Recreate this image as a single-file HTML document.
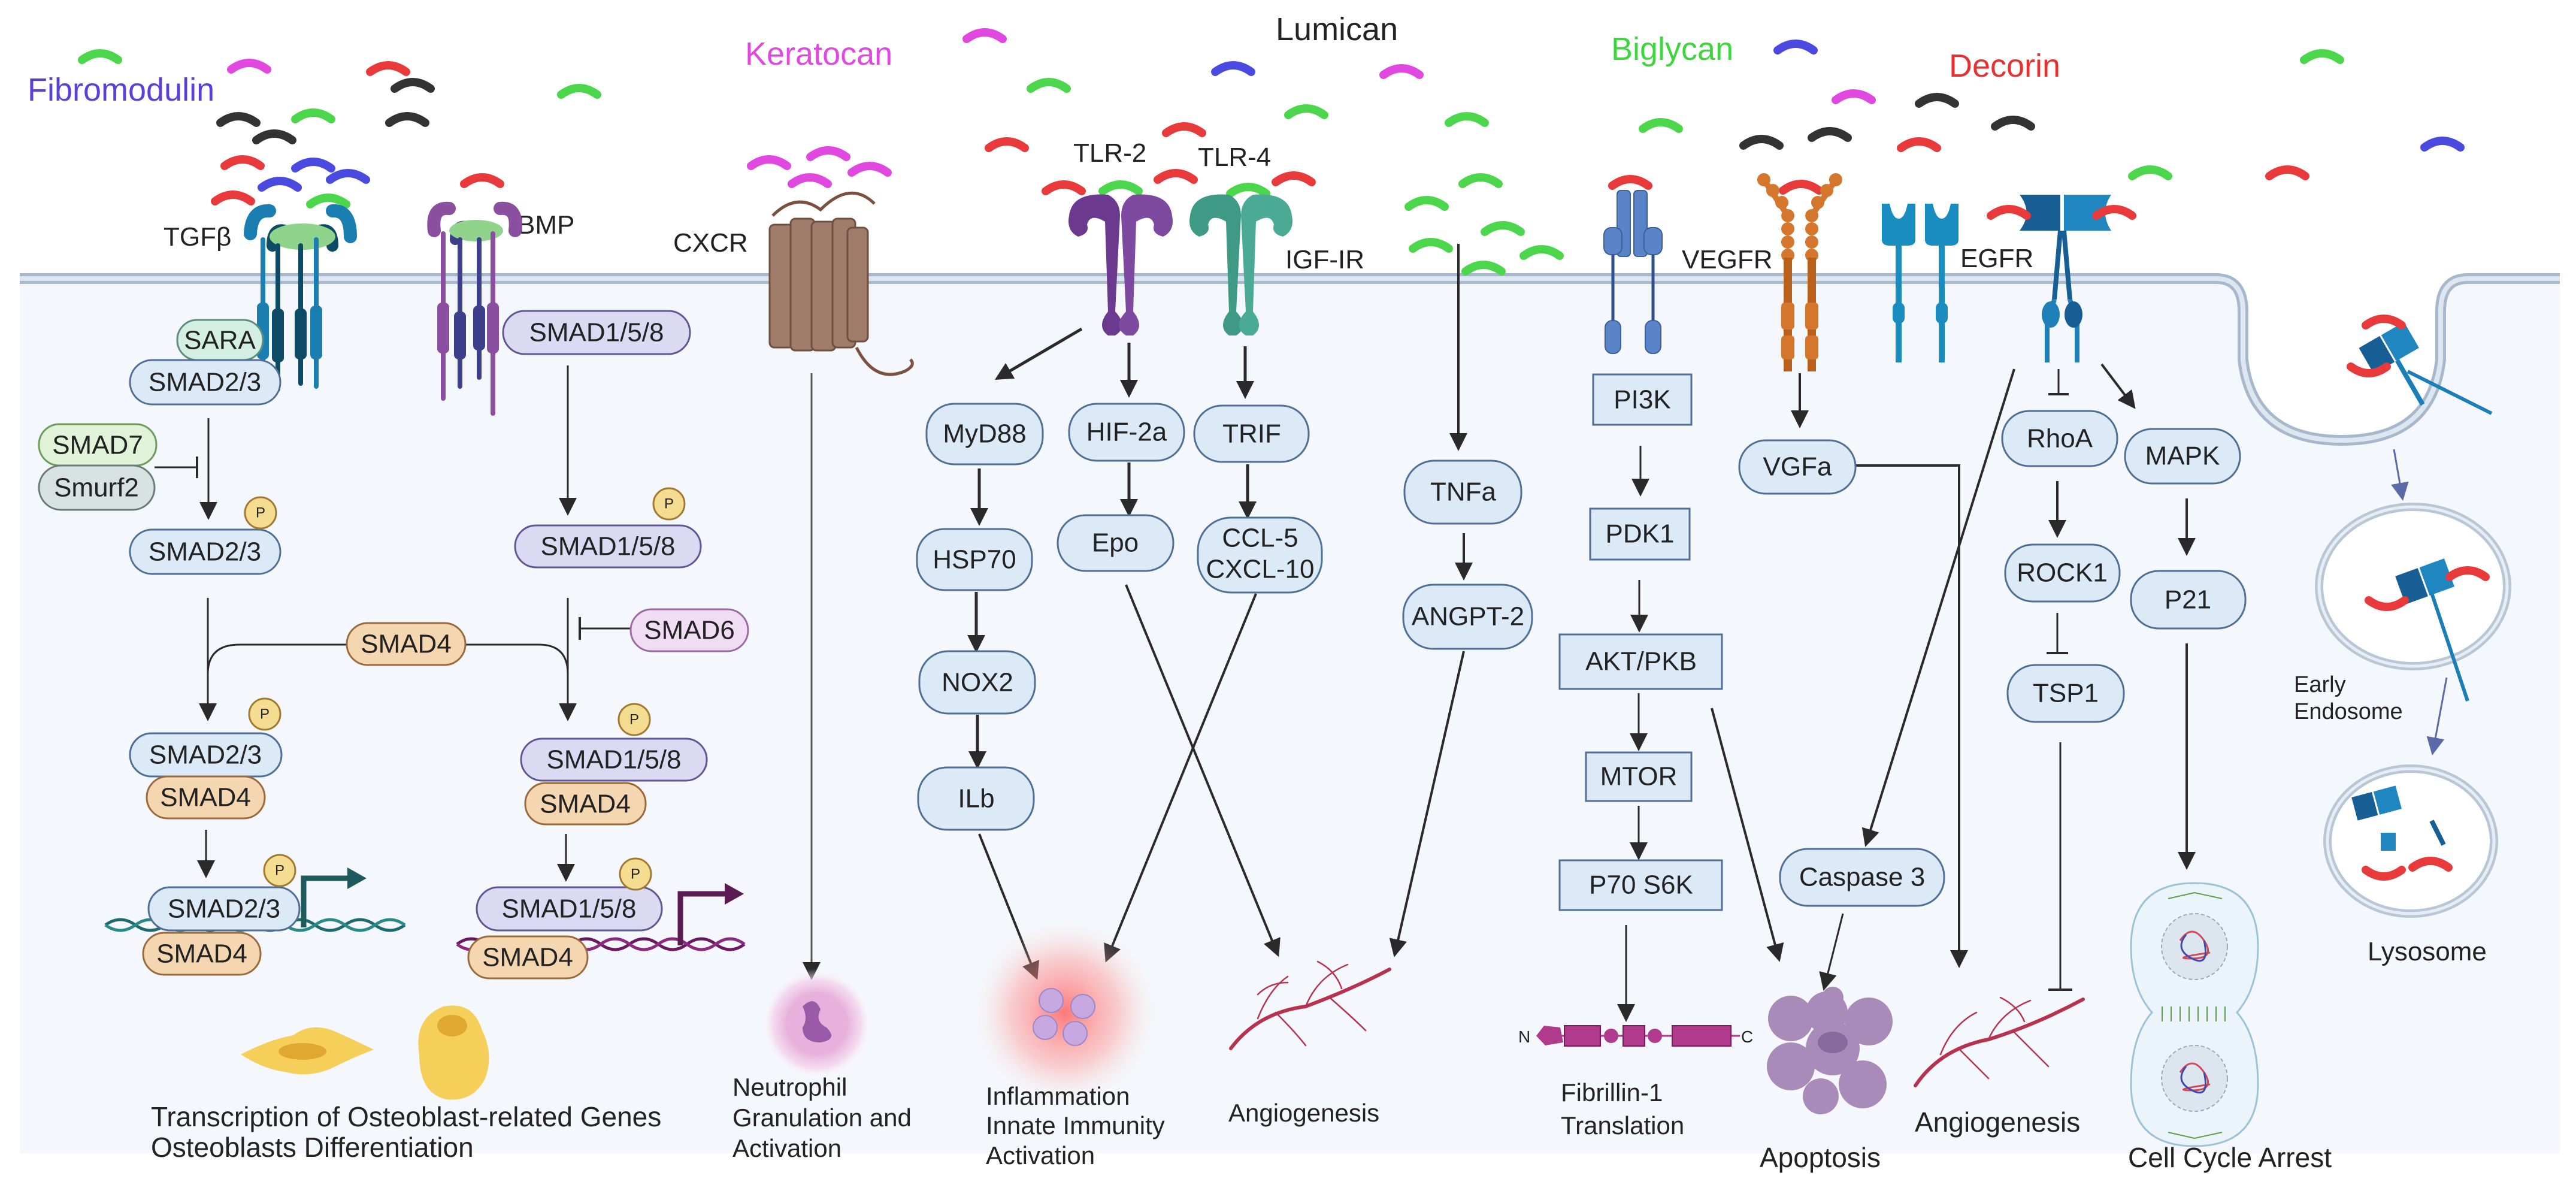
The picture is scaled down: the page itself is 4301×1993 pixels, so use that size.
<!DOCTYPE html>
<html><head><meta charset="utf-8"><style>
html,body{margin:0;padding:0;background:#fff}
svg{display:block}
text{font-family:"Liberation Sans",sans-serif;fill:#222}
.pt{font-size:44px;text-anchor:middle;dominant-baseline:central}
.lb{font-size:44px}
</style></head><body>
<svg width="4301" height="1993" viewBox="0 0 4301 1993" xmlns="http://www.w3.org/2000/svg">
<defs>
<marker id="ahb" viewBox="0 0 10 10" refX="8" refY="5" markerWidth="30" markerHeight="30" orient="auto" markerUnits="userSpaceOnUse"><path d="M0 0 L10 5 L0 10 z" fill="#2a2a2a"/></marker>
<marker id="ahp" viewBox="0 0 10 10" refX="8" refY="5" markerWidth="30" markerHeight="30" orient="auto" markerUnits="userSpaceOnUse"><path d="M0 0 L10 5 L0 10 z" fill="#5a6aa8"/></marker>
<path id="lg" d="M-30 8 Q0 -14 30 8" fill="none" stroke-width="14" stroke-linecap="round"/>
<radialGradient id="glow"><stop offset="0" stop-color="#ff5a5a" stop-opacity=".8"/><stop offset=".6" stop-color="#ff8a8a" stop-opacity=".4"/><stop offset="1" stop-color="#ffd0d0" stop-opacity="0"/></radialGradient>
<radialGradient id="nglow"><stop offset=".55" stop-color="#e8b0dc"/><stop offset=".8" stop-color="#f3cdea" stop-opacity=".7"/><stop offset="1" stop-color="#fff" stop-opacity="0"/></radialGradient>
</defs>

<rect x="33" y="465" width="4241" height="1460" fill="#f4f7fb"/>
<path d="M3700 459 Q3745 459 3745 520 L3745 600 Q3760 735 3910 735 Q4060 735 4075 600 L4075 520 Q4075 459 4120 459 Z" fill="#fff"/>
<path d="M33 465 L3700 465 Q3745 465 3745 520 L3745 600 Q3760 735 3910 735 Q4060 735 4075 600 L4075 520 Q4075 465 4120 465 L4274 465" fill="none" stroke="#a8b8cc" stroke-width="18"/>
<path d="M33 465 L3700 465 Q3745 465 3745 520 L3745 600 Q3760 735 3910 735 Q4060 735 4075 600 L4075 520 Q4075 465 4120 465 L4274 465" fill="none" stroke="#dde7f1" stroke-width="8"/>

<g>
<use href="#lg" x="167" y="92" stroke="#4cd64c"/><use href="#lg" x="416" y="108" stroke="#e048e0"/><use href="#lg" x="648" y="112" stroke="#e83a3a"/><use href="#lg" x="689" y="140" stroke="#333"/><use href="#lg" x="967" y="150" stroke="#4cd64c"/>
<use href="#lg" x="398" y="197" stroke="#333"/><use href="#lg" x="458" y="226" stroke="#333"/><use href="#lg" x="523" y="191" stroke="#4cd64c"/><use href="#lg" x="680" y="197" stroke="#333"/>
<use href="#lg" x="405" y="269" stroke="#e83a3a"/><use href="#lg" x="523" y="273" stroke="#4a4ae0"/><use href="#lg" x="467" y="305" stroke="#4a4ae0"/><use href="#lg" x="581" y="292" stroke="#4a4ae0"/><use href="#lg" x="389" y="328" stroke="#e83a3a"/><use href="#lg" x="548" y="333" stroke="#4cd64c"/><use href="#lg" x="805" y="299" stroke="#e83a3a"/>
<use href="#lg" x="1284" y="269" stroke="#e048e0"/><use href="#lg" x="1383" y="254" stroke="#e048e0"/><use href="#lg" x="1352" y="299" stroke="#e048e0"/><use href="#lg" x="1452" y="280" stroke="#e048e0"/>
<use href="#lg" x="1644" y="57" stroke="#e048e0"/><use href="#lg" x="1751" y="140" stroke="#4cd64c"/><use href="#lg" x="1681" y="239" stroke="#e83a3a"/><use href="#lg" x="1977" y="214" stroke="#e83a3a"/><use href="#lg" x="2059" y="112" stroke="#4a4ae0"/><use href="#lg" x="2340" y="117" stroke="#e048e0"/><use href="#lg" x="2181" y="184" stroke="#4cd64c"/><use href="#lg" x="2449" y="197" stroke="#4cd64c"/>
<use href="#lg" x="1776" y="311" stroke="#e83a3a"/><use href="#lg" x="1871" y="311" stroke="#4cd64c"/><use href="#lg" x="1963" y="292" stroke="#e83a3a"/><use href="#lg" x="2084" y="315" stroke="#4cd64c"/><use href="#lg" x="2160" y="296" stroke="#e83a3a"/>
<use href="#lg" x="2382" y="337" stroke="#4cd64c"/><use href="#lg" x="2472" y="299" stroke="#4cd64c"/><use href="#lg" x="2509" y="379" stroke="#4cd64c"/><use href="#lg" x="2389" y="407" stroke="#4cd64c"/><use href="#lg" x="2574" y="419" stroke="#4cd64c"/><use href="#lg" x="2477" y="445" stroke="#4cd64c"/>
<use href="#lg" x="2773" y="207" stroke="#4cd64c"/><use href="#lg" x="2722" y="302" stroke="#e83a3a"/>
<use href="#lg" x="2998" y="76" stroke="#4a4ae0"/><use href="#lg" x="3095" y="159" stroke="#e048e0"/><use href="#lg" x="2941" y="235" stroke="#333"/><use href="#lg" x="3055" y="222" stroke="#333"/><use href="#lg" x="3234" y="165" stroke="#333"/><use href="#lg" x="3361" y="203" stroke="#333"/><use href="#lg" x="3204" y="239" stroke="#e83a3a"/>
<use href="#lg" x="3590" y="286" stroke="#4cd64c"/><use href="#lg" x="3819" y="286" stroke="#e83a3a"/><use href="#lg" x="3877" y="92" stroke="#4cd64c"/><use href="#lg" x="4078" y="238" stroke="#4a4ae0"/><use href="#lg" x="3007" y="310" stroke="#e83a3a"/>
</g>

<text x="46" y="168" font-size="54" style="fill:#5a40d8">Fibromodulin</text>
<text x="1244" y="108" font-size="54" style="fill:#e048e0">Keratocan</text>
<text x="2130" y="67" font-size="54">Lumican</text>
<text x="2690" y="100" font-size="54" style="fill:#3ed63e">Biglycan</text>
<text x="3254" y="128" font-size="54" style="fill:#e83030">Decorin</text>
<text class="lb" x="273" y="410" font-size="50">TGFβ</text>
<text class="lb" x="864" y="390">BMP</text>
<text class="lb" x="1124" y="420">CXCR</text>
<text class="lb" x="1792" y="270">TLR-2</text>
<text class="lb" x="2000" y="277">TLR-4</text>
<text class="lb" x="2146" y="448">IGF-IR</text>
<text class="lb" x="2808" y="448">VEGFR</text>
<text class="lb" x="3273" y="446">EGFR</text>

<g stroke-linecap="round">
<path d="M418 390 Q420 350 450 352 M555 352 Q585 350 585 395" stroke="#1a7fb0" stroke-width="22" fill="none"/>
<path d="M455 410 Q455 380 475 385 M535 385 Q555 380 555 410" stroke="#0d4a66" stroke-width="20" fill="none"/>
<ellipse cx="505" cy="395" rx="55" ry="22" fill="#8fd48a"/>
<line x1="439" y1="400" x2="439" y2="640" stroke="#1a7fb0" stroke-width="8"/>
<line x1="464" y1="410" x2="464" y2="650" stroke="#0d4a66" stroke-width="8"/>
<line x1="502" y1="410" x2="502" y2="640" stroke="#0d4a66" stroke-width="8"/>
<line x1="528" y1="400" x2="528" y2="645" stroke="#1a7fb0" stroke-width="8"/>
<rect x="429" y="505" width="20" height="95" rx="8" fill="#1a7fb0"/><rect x="454" y="515" width="20" height="90" rx="8" fill="#0d4a66"/><rect x="492" y="515" width="20" height="85" rx="8" fill="#0d4a66"/><rect x="518" y="510" width="20" height="90" rx="8" fill="#1a7fb0"/>
</g>
<g stroke-linecap="round">
<path d="M725 385 Q720 345 750 348 M835 348 Q865 345 860 385" stroke="#8a4f9e" stroke-width="22" fill="none"/>
<path d="M760 400 Q760 375 778 378" stroke="#3d3f8a" stroke-width="18" fill="none"/>
<ellipse cx="795" cy="385" rx="45" ry="18" fill="#8fd48a"/>
<line x1="740" y1="390" x2="740" y2="665" stroke="#8a4f9e" stroke-width="8"/>
<line x1="768" y1="400" x2="768" y2="645" stroke="#3d3f8a" stroke-width="8"/>
<line x1="800" y1="400" x2="800" y2="630" stroke="#3d3f8a" stroke-width="8"/>
<line x1="823" y1="390" x2="823" y2="690" stroke="#8a4f9e" stroke-width="8"/>
<rect x="730" y="505" width="20" height="85" rx="8" fill="#8a4f9e"/><rect x="758" y="520" width="20" height="80" rx="8" fill="#3d3f8a"/><rect x="790" y="510" width="20" height="75" rx="8" fill="#3d3f8a"/><rect x="813" y="505" width="20" height="85" rx="8" fill="#8a4f9e"/>
</g>
<g fill="#a07c6a" stroke="#6e5040" stroke-width="3">
<path d="M1290 360 Q1330 320 1370 350 Q1420 300 1460 340" fill="none" stroke="#7a5040" stroke-width="5"/>
<rect x="1285" y="375" width="40" height="205" rx="8"/><rect x="1320" y="365" width="40" height="220" rx="8"/><rect x="1355" y="370" width="40" height="215" rx="8"/><rect x="1390" y="365" width="38" height="215" rx="8"/><rect x="1415" y="380" width="34" height="190" rx="8"/>
<path d="M1430 580 Q1460 640 1510 620 Q1530 610 1520 600" fill="none" stroke="#7a5040" stroke-width="5"/>
</g>
<g fill="#6b3a8f">
<path d="M1785 360 Q1790 320 1850 325 Q1870 335 1870 360 L1862 520 Q1885 545 1862 560 L1850 560 Q1830 545 1850 520 L1845 370 Q1820 355 1815 375 Q1820 390 1800 395 Q1780 385 1785 360Z"/>
<path d="M1957 360 Q1952 320 1892 325 Q1872 335 1872 360 L1880 520 Q1857 545 1880 560 L1892 560 Q1912 545 1892 520 L1897 370 Q1922 355 1927 375 Q1922 390 1942 395 Q1962 385 1957 360Z" fill="#7d4aa0"/>
</g>
<g fill="#3e9a85">
<path d="M1987 360 Q1992 320 2052 325 Q2072 335 2072 360 L2064 520 Q2087 545 2064 560 L2052 560 Q2032 545 2052 520 L2047 370 Q2022 355 2017 375 Q2022 390 2002 395 Q1982 385 1987 360Z"/>
<path d="M2157 360 Q2152 320 2092 325 Q2072 335 2072 360 L2080 520 Q2057 545 2080 560 L2092 560 Q2112 545 2092 520 L2097 370 Q2122 355 2127 375 Q2122 390 2142 395 Q2162 385 2157 360Z" fill="#4aaa94"/>
</g>
<g fill="#5a84c8" stroke="#3e5f9a" stroke-width="2">
<rect x="2700" y="318" width="22" height="110" rx="6"/><rect x="2728" y="318" width="22" height="110" rx="6"/>
<rect x="2678" y="380" width="30" height="45" rx="12"/><rect x="2745" y="380" width="30" height="45" rx="12"/>
<line x1="2693" y1="425" x2="2693" y2="540" stroke="#2e4f8a" stroke-width="5"/><line x1="2760" y1="425" x2="2760" y2="540" stroke="#2e4f8a" stroke-width="5"/>
<rect x="2680" y="535" width="26" height="55" rx="12"/><rect x="2747" y="535" width="26" height="55" rx="12"/>
</g>
<g fill="#d4772c">
<line x1="2945" y1="300" x2="2985" y2="360" stroke="#d4772c" stroke-width="10"/><line x1="3065" y1="300" x2="3025" y2="360" stroke="#d4772c" stroke-width="10"/>
<circle cx="2945" cy="300" r="11"/><circle cx="2960" cy="318" r="11"/><circle cx="2975" cy="338" r="11"/><circle cx="2985" cy="360" r="11"/><circle cx="2985" cy="382" r="11"/><circle cx="2985" cy="404" r="11"/><circle cx="2985" cy="426" r="11"/>
<circle cx="3065" cy="300" r="11"/><circle cx="3050" cy="318" r="11"/><circle cx="3035" cy="338" r="11"/><circle cx="3025" cy="360" r="11"/><circle cx="3025" cy="382" r="11"/><circle cx="3025" cy="404" r="11"/><circle cx="3025" cy="426" r="11"/>
<rect x="2978" y="430" width="14" height="190" fill="#b8601c"/><rect x="3018" y="430" width="14" height="190" fill="#b8601c"/>
<rect x="2974" y="505" width="22" height="45" rx="6"/><rect x="3014" y="505" width="22" height="45" rx="6"/><rect x="2974" y="560" width="22" height="40" rx="6"/><rect x="3014" y="560" width="22" height="40" rx="6"/>
</g>
<g fill="#1a8dc0">
<path d="M3142 340 L3142 400 Q3142 410 3155 410 L3185 410 Q3198 410 3198 400 L3198 340 L3185 340 Q3180 365 3170 365 Q3160 365 3155 340Z"/>
<path d="M3214 340 L3214 400 Q3214 410 3227 410 L3257 410 Q3270 410 3270 400 L3270 340 L3257 340 Q3252 365 3242 365 Q3232 365 3227 340Z"/>
<rect x="3165" y="405" width="10" height="200"/><rect x="3237" y="405" width="10" height="200"/>
<rect x="3160" y="505" width="20" height="35" rx="9"/><rect x="3232" y="505" width="20" height="35" rx="9"/>
</g>
<g>
<path d="M3372 325 L3440 325 L3440 385 L3372 385 Q3395 355 3372 325Z" fill="#175e94"/>
<path d="M3446 325 L3525 325 Q3505 355 3525 385 L3446 385Z" fill="#1f86c0"/>
<path d="M3440 385 L3430 500 M3446 385 L3456 500" stroke="#175e94" stroke-width="8"/>
<path d="M3430 500 L3418 540 L3418 605 M3456 500 L3468 540 L3468 605" stroke="#1f7fb8" stroke-width="8" fill="none"/>
<ellipse cx="3424" cy="525" rx="15" ry="22" fill="#1f7fb8"/><ellipse cx="3462" cy="525" rx="15" ry="22" fill="#175e94"/>
<use href="#lg" x="3354" y="352" stroke="#e83a3a"/><use href="#lg" x="3530" y="352" stroke="#e83a3a"/>
</g>

<g stroke="#2a2a2a" fill="none">
<line x1="348" y1="698" x2="348" y2="862" stroke-width="3" marker-end="url(#ahb)"/>
<line x1="258" y1="780" x2="329" y2="780" stroke-width="3"/><line x1="329" y1="762" x2="329" y2="798" stroke-width="4"/>
<line x1="347" y1="998" x2="347" y2="1198" stroke-width="3" marker-end="url(#ahb)"/>
<path d="M579 1076 L400 1076 Q347 1076 347 1125" stroke-width="3"/>
<path d="M777 1076 L900 1076 Q948 1076 948 1125" stroke-width="3"/>
<line x1="948" y1="610" x2="948" y2="855" stroke-width="3" marker-end="url(#ahb)"/>
<line x1="948" y1="998" x2="948" y2="1198" stroke-width="3" marker-end="url(#ahb)"/>
<line x1="1053" y1="1049" x2="970" y2="1049" stroke-width="3"/><line x1="968" y1="1030" x2="968" y2="1068" stroke-width="4"/>
<line x1="344" y1="1385" x2="344" y2="1460" stroke-width="3" marker-end="url(#ahb)"/>
<line x1="945" y1="1392" x2="945" y2="1466" stroke-width="3" marker-end="url(#ahb)"/>
<line x1="1355" y1="623" x2="1355" y2="1630" stroke="#555" stroke-width="3" marker-end="url(#ahb)"/>
<line x1="1806" y1="549" x2="1666" y2="631" stroke-width="5" marker-end="url(#ahb)"/>
<line x1="1885" y1="572" x2="1885" y2="658" stroke-width="5" marker-end="url(#ahb)"/>
<line x1="2079" y1="578" x2="2079" y2="660" stroke-width="5" marker-end="url(#ahb)"/>
<line x1="1635" y1="782" x2="1635" y2="872" stroke-width="5" marker-end="url(#ahb)"/>
<line x1="1630" y1="988" x2="1630" y2="1084" stroke-width="5" marker-end="url(#ahb)"/>
<line x1="1632" y1="1193" x2="1632" y2="1278" stroke-width="5" marker-end="url(#ahb)"/>
<line x1="1885" y1="772" x2="1885" y2="857" stroke-width="5" marker-end="url(#ahb)"/>
<line x1="2083" y1="775" x2="2083" y2="861" stroke-width="5" marker-end="url(#ahb)"/>
<line x1="1635" y1="1392" x2="1730" y2="1630" stroke-width="4" marker-end="url(#ahb)"/>
<line x1="1880" y1="976" x2="2133" y2="1592" stroke-width="4" marker-end="url(#ahb)"/>
<line x1="2097" y1="991" x2="1848" y2="1601" stroke-width="4" marker-end="url(#ahb)"/>
<line x1="2444" y1="1087" x2="2329" y2="1592" stroke-width="4" marker-end="url(#ahb)"/>
<line x1="2435" y1="407" x2="2435" y2="747" stroke-width="4" marker-end="url(#ahb)"/>
<line x1="2444" y1="890" x2="2444" y2="963" stroke-width="4" marker-end="url(#ahb)"/>
<line x1="2739" y1="744" x2="2739" y2="823" stroke-width="3" marker-end="url(#ahb)"/>
<line x1="2737" y1="968" x2="2737" y2="1050" stroke-width="3" marker-end="url(#ahb)"/>
<line x1="2736" y1="1157" x2="2736" y2="1248" stroke-width="3" marker-end="url(#ahb)"/>
<line x1="2736" y1="1345" x2="2736" y2="1430" stroke-width="3" marker-end="url(#ahb)"/>
<line x1="2715" y1="1544" x2="2715" y2="1700" stroke-width="3" marker-end="url(#ahb)"/>
<line x1="2858" y1="1182" x2="2970" y2="1600" stroke-width="4" marker-end="url(#ahb)"/>
<line x1="3005" y1="623" x2="3005" y2="709" stroke-width="4" marker-end="url(#ahb)"/>
<path d="M3098 777 L3271 777 L3271 1610" stroke-width="4" marker-end="url(#ahb)"/>
<line x1="3363" y1="616" x2="3116" y2="1408" stroke-width="4" marker-end="url(#ahb)"/>
<line x1="3077" y1="1525" x2="3046" y2="1648" stroke-width="3" marker-end="url(#ahb)"/>
<line x1="3437" y1="616" x2="3437" y2="658" stroke-width="3"/><line x1="3420" y1="658" x2="3454" y2="658" stroke-width="4"/>
<line x1="3435" y1="803" x2="3435" y2="892" stroke-width="4" marker-end="url(#ahb)"/>
<line x1="3435" y1="1023" x2="3435" y2="1090" stroke-width="3"/><line x1="3417" y1="1090" x2="3453" y2="1090" stroke-width="4"/>
<line x1="3440" y1="1239" x2="3440" y2="1652" stroke-width="3"/><line x1="3420" y1="1652" x2="3460" y2="1652" stroke-width="4"/>
<line x1="3509" y1="608" x2="3562" y2="678" stroke-width="4" marker-end="url(#ahb)"/>
<line x1="3651" y1="832" x2="3651" y2="922" stroke-width="4" marker-end="url(#ahb)"/>
<line x1="3651" y1="1074" x2="3651" y2="1446" stroke-width="4" marker-end="url(#ahb)"/>
<line x1="3997" y1="750" x2="4011" y2="830" stroke="#5a6aa8" stroke-width="3" marker-end="url(#ahp)"/>
<line x1="4085" y1="1131" x2="4062" y2="1255" stroke="#5a6aa8" stroke-width="3" marker-end="url(#ahp)"/>
</g>

<g fill="none" stroke-width="5">
<path d="M176 1544 q25 -18 50 0 t50 0 t50 0 t50 0 t50 0 t50 0 t50 0 t50 0 t50 0 t50 0" stroke="#1e6a6c"/>
<path d="M176 1544 q25 18 50 0 t50 0 t50 0 t50 0 t50 0 t50 0 t50 0 t50 0 t50 0 t50 0" stroke="#2a8a8a"/>
<path d="M763 1576 q24 -18 48 0 t48 0 t48 0 t48 0 t48 0 t48 0 t48 0 t48 0 t48 0 t48 0" stroke="#6a1a62"/>
<path d="M763 1576 q24 18 48 0 t48 0 t48 0 t48 0 t48 0 t48 0 t48 0 t48 0 t48 0 t48 0" stroke="#8a2a80"/>
<path d="M507 1548 L507 1466 L585 1466" stroke="#1e5a5c" stroke-width="9"/><path d="M580 1448 L612 1466 L580 1484Z" fill="#1e5a5c" stroke="none"/>
<path d="M1136 1578 L1136 1492 L1215 1492" stroke="#5a1a52" stroke-width="9"/><path d="M1210 1474 L1242 1492 L1210 1510Z" fill="#5a1a52" stroke="none"/>
</g>

<g stroke-width="3">
<rect x="296" y="534" width="143" height="67" rx="33" fill="#d3efe4" stroke="#5f8e80"/>
<rect x="217" y="601" width="251" height="74" rx="37" fill="#dce9f7" stroke="#4f6f94"/>
<rect x="65" y="708" width="196" height="69" rx="34" fill="#e0f3d8" stroke="#6c9d5c"/>
<rect x="65" y="777" width="193" height="74" rx="37" fill="#d8e2e0" stroke="#6b7c78"/>
<rect x="217" y="884" width="251" height="74" rx="37" fill="#dce9f7" stroke="#4f6f94"/>
<rect x="579" y="1040" width="198" height="70" rx="35" fill="#f4d6b0" stroke="#9a6a3c"/>
<rect x="1053" y="1017" width="196" height="70" rx="35" fill="#f0dcf3" stroke="#9b6aa3"/>
<rect x="217" y="1224" width="253" height="72" rx="36" fill="#dce9f7" stroke="#4f6f94"/>
<rect x="245" y="1296" width="197" height="70" rx="35" fill="#f4d6b0" stroke="#9a6a3c"/>
<rect x="248" y="1481" width="252" height="72" rx="36" fill="#dce9f7" stroke="#4f6f94"/>
<rect x="239" y="1557" width="196" height="70" rx="35" fill="#f4d6b0" stroke="#9a6a3c"/>
<rect x="840" y="519" width="312" height="72" rx="36" fill="#dcd9f3" stroke="#5e5894"/>
<rect x="860" y="877" width="310" height="70" rx="35" fill="#dcd9f3" stroke="#5e5894"/>
<rect x="870" y="1233" width="310" height="70" rx="35" fill="#dcd9f3" stroke="#5e5894"/>
<rect x="877" y="1307" width="201" height="69" rx="34" fill="#f4d6b0" stroke="#9a6a3c"/>
<rect x="796" y="1481" width="309" height="72" rx="36" fill="#dcd9f3" stroke="#5e5894"/>
<rect x="782" y="1563" width="199" height="70" rx="35" fill="#f4d6b0" stroke="#9a6a3c"/>
</g>
<g fill="#f4dc90" stroke="#a07a30" stroke-width="3">
<circle cx="435" cy="856" r="26"/><circle cx="442" cy="1192" r="26"/><circle cx="467" cy="1453" r="26"/>
<circle cx="1117" cy="841" r="26"/><circle cx="1059" cy="1201" r="26"/><circle cx="1061" cy="1459" r="26"/>
</g>
<g text-anchor="middle" dominant-baseline="central">
<text x="435" y="856" font-size="24">P</text><text x="442" y="1192" font-size="24">P</text><text x="467" y="1453" font-size="24">P</text>
<text x="1117" y="841" font-size="24">P</text><text x="1059" y="1201" font-size="24">P</text><text x="1061" y="1459" font-size="24">P</text>
</g>
<g>
<text class="pt" x="367" y="568">SARA</text>
<text class="pt" x="342" y="638">SMAD2/3</text>
<text class="pt" x="163" y="743">SMAD7</text>
<text class="pt" x="161" y="814">Smurf2</text>
<text class="pt" x="342" y="921">SMAD2/3</text>
<text class="pt" x="678" y="1075">SMAD4</text>
<text class="pt" x="1151" y="1052">SMAD6</text>
<text class="pt" x="343" y="1260">SMAD2/3</text>
<text class="pt" x="343" y="1331">SMAD4</text>
<text class="pt" x="374" y="1517">SMAD2/3</text>
<text class="pt" x="337" y="1592">SMAD4</text>
<text class="pt" x="996" y="555">SMAD1/5/8</text>
<text class="pt" x="1015" y="912">SMAD1/5/8</text>
<text class="pt" x="1025" y="1268">SMAD1/5/8</text>
<text class="pt" x="977" y="1342">SMAD4</text>
<text class="pt" x="950" y="1517">SMAD1/5/8</text>
<text class="pt" x="881" y="1598">SMAD4</text>
</g>

<g stroke-width="3" fill="#dce9f7" stroke="#4f6f94">
<rect x="1547" y="674" width="194" height="101" rx="46"/>
<rect x="1785" y="674" width="192" height="95" rx="46"/>
<rect x="1994" y="677" width="191" height="94" rx="46"/>
<rect x="1531" y="883" width="192" height="102" rx="46"/>
<rect x="1766" y="860" width="193" height="93" rx="46"/>
<rect x="2000" y="864" width="207" height="125" rx="55"/>
<rect x="1535" y="1087" width="193" height="104" rx="48"/>
<rect x="1533" y="1281" width="193" height="104" rx="48"/>
<rect x="2345" y="769" width="195" height="105" rx="50"/>
<rect x="2343" y="976" width="215" height="107" rx="50"/>
<rect x="2904" y="735" width="194" height="89" rx="44"/>
<rect x="2972" y="1417" width="274" height="95" rx="46"/>
<rect x="3343" y="686" width="192" height="92" rx="45"/>
<rect x="3348" y="909" width="191" height="95" rx="46"/>
<rect x="3352" y="1110" width="194" height="95" rx="46"/>
<rect x="3548" y="716" width="192" height="91" rx="45"/>
<rect x="3558" y="953" width="191" height="96" rx="46"/>
<rect x="2660" y="625" width="164" height="84"/>
<rect x="2655" y="849" width="166" height="85"/>
<rect x="2604" y="1059" width="271" height="91"/>
<rect x="2648" y="1256" width="176" height="81"/>
<rect x="2604" y="1436" width="271" height="83"/>
</g>
<g>
<text class="pt" x="1644" y="724">MyD88</text>
<text class="pt" x="1881" y="721">HIF-2a</text>
<text class="pt" x="2090" y="724">TRIF</text>
<text class="pt" x="1627" y="934">HSP70</text>
<text class="pt" x="1862" y="906">Epo</text>
<text class="pt" x="2104" y="898">CCL-5</text>
<text class="pt" x="2104" y="950">CXCL-10</text>
<text class="pt" x="1632" y="1139">NOX2</text>
<text class="pt" x="1630" y="1333">ILb</text>
<text class="pt" x="2443" y="821">TNFa</text>
<text class="pt" x="2451" y="1029">ANGPT-2</text>
<text class="pt" x="2742" y="667">PI3K</text>
<text class="pt" x="2738" y="891">PDK1</text>
<text class="pt" x="2740" y="1104">AKT/PKB</text>
<text class="pt" x="2736" y="1296">MTOR</text>
<text class="pt" x="2740" y="1477">P70 S6K</text>
<text class="pt" x="3001" y="779">VGFa</text>
<text class="pt" x="3109" y="1464">Caspase 3</text>
<text class="pt" x="3439" y="732">RhoA</text>
<text class="pt" x="3443" y="956">ROCK1</text>
<text class="pt" x="3449" y="1157">TSP1</text>
<text class="pt" x="3644" y="761">MAPK</text>
<text class="pt" x="3653" y="1001">P21</text>
</g>

<path d="M402 1760 Q450 1735 490 1728 Q520 1705 560 1722 Q600 1740 624 1752 Q590 1765 560 1780 Q520 1800 480 1790 Q440 1785 402 1760Z" fill="#f5cf5a"/>
<ellipse cx="505" cy="1755" rx="40" ry="14" fill="#e0a830"/>
<path d="M700 1760 Q690 1700 740 1680 Q790 1670 805 1720 Q825 1760 810 1800 Q790 1840 745 1835 Q700 1825 700 1760Z" fill="#f5cf5a"/>
<ellipse cx="755" cy="1712" rx="25" ry="18" fill="#e0a830"/>
<circle cx="1364" cy="1709" r="92" fill="url(#nglow)"/>
<path d="M1340 1680 q20 -20 30 5 q-10 20 10 30 q20 20 -10 25 q-30 0 -30 -25 q10 -15 0 -35z" fill="#9a5aa8"/>
<circle cx="1778" cy="1690" r="150" fill="url(#glow)"/>
<g fill="#c8a8e0" stroke="#9a88c8" stroke-width="2"><circle cx="1755" cy="1670" r="20"/><circle cx="1808" cy="1680" r="20"/><circle cx="1745" cy="1715" r="20"/><circle cx="1795" cy="1725" r="20"/></g>
<g fill="none" stroke="#b8324f" stroke-linecap="round">
<path d="M2055 1750 Q2100 1690 2180 1680 Q2260 1650 2320 1618" stroke-width="6"/>
<path d="M2100 1700 Q2120 1650 2150 1630 M2180 1680 Q2200 1630 2250 1610 M2220 1665 Q2260 1700 2280 1720 M2130 1690 Q2160 1720 2180 1745 M2240 1650 Q2230 1620 2200 1605 M2150 1640 Q2120 1640 2100 1660" stroke-width="2.5"/>
<path d="M3198 1812 Q3240 1750 3320 1735 Q3400 1710 3478 1668" stroke-width="6"/>
<path d="M3240 1760 Q3260 1710 3300 1690 M3320 1735 Q3340 1690 3390 1670 M3360 1720 Q3400 1760 3420 1780 M3270 1750 Q3300 1780 3320 1800 M3380 1705 Q3370 1680 3340 1665" stroke-width="2.5"/>
</g>
<g>
<line x1="2575" y1="1729" x2="2905" y2="1729" stroke="#b03a8c" stroke-width="3"/>
<path d="M2565 1729 L2578 1712 L2605 1715 L2610 1740 L2580 1745Z" fill="#b03a8c"/>
<rect x="2612" y="1712" width="60" height="34" fill="#b03a8c" stroke="#7a1a5c" stroke-width="2"/>
<circle cx="2690" cy="1729" r="12" fill="#b03a8c"/>
<rect x="2710" y="1712" width="36" height="34" fill="#b03a8c" stroke="#7a1a5c" stroke-width="2"/>
<circle cx="2763" cy="1729" r="12" fill="#b03a8c"/>
<rect x="2792" y="1712" width="98" height="34" fill="#b03a8c" stroke="#7a1a5c" stroke-width="2"/>
<text x="2535" y="1740" font-size="28">N</text><text x="2907" y="1740" font-size="28">C</text>
</g>
<g fill="#a88bb8">
<circle cx="2990" cy="1700" r="38"/><circle cx="3050" cy="1690" r="35"/><circle cx="3120" cy="1705" r="40"/><circle cx="3060" cy="1750" r="45"/><circle cx="2990" cy="1780" r="40"/><circle cx="3110" cy="1810" r="40"/><circle cx="3040" cy="1830" r="30"/><circle cx="3060" cy="1665" r="18"/>
</g>
<ellipse cx="3060" cy="1740" rx="25" ry="18" fill="#8a6a9e"/>
<g fill="#eaf4fa" stroke="#9cc3d8" stroke-width="3">
<path d="M3664 1474 Q3770 1474 3770 1580 Q3770 1650 3735 1690 Q3770 1730 3770 1810 Q3770 1913 3664 1913 Q3558 1913 3558 1810 Q3558 1730 3593 1690 Q3558 1650 3558 1580 Q3558 1474 3664 1474Z"/>
</g>
<circle cx="3664" cy="1580" r="55" fill="#dde6ee" stroke="#9aaabb" stroke-width="2" stroke-dasharray="6 4"/>
<circle cx="3664" cy="1800" r="55" fill="#dde6ee" stroke="#9aaabb" stroke-width="2" stroke-dasharray="6 4"/>
<path d="M3640 1570 q20 -30 40 0 t-20 30 t30 -10 M3640 1790 q20 -30 40 0 t-20 30 t30 -10" fill="none" stroke="#d04a5a" stroke-width="3"/>
<path d="M3650 1560 q-20 25 10 40 t20 -30 M3650 1780 q-20 25 10 40 t20 -30" fill="none" stroke="#3a4ab0" stroke-width="3"/>
<g stroke="#5aa04a" stroke-width="2" fill="none"><path d="M3610 1680 L3610 1705 M3625 1680 L3625 1705 M3640 1680 L3640 1705 M3655 1680 L3655 1705 M3670 1680 L3670 1705 M3685 1680 L3685 1705 M3700 1680 L3700 1705 M3715 1680 L3715 1705 M3620 1500 L3664 1490 L3710 1500 M3620 1890 L3664 1900 L3710 1890"/></g>
<ellipse cx="4029" cy="979" rx="157" ry="133" fill="#fff" stroke="#b8c6d6" stroke-width="14"/>
<ellipse cx="4029" cy="979" rx="157" ry="133" fill="none" stroke="#e6edf4" stroke-width="5"/>
<ellipse cx="4025" cy="1404" rx="139" ry="121" fill="#fff" stroke="#b8c6d6" stroke-width="14"/>
<ellipse cx="4025" cy="1404" rx="139" ry="121" fill="none" stroke="#e6edf4" stroke-width="5"/>
<g>
<g transform="translate(3990,580) rotate(-30)"><rect x="-45" y="-25" width="40" height="50" fill="#175e94"/><rect x="-2" y="-25" width="44" height="50" fill="#1f86c0"/><line x1="0" y1="25" x2="0" y2="110" stroke="#1a7fb8" stroke-width="8"/></g>
<use href="#lg" x="3980" y="535" stroke="#e83a3a"/><use href="#lg" x="3955" y="620" stroke="#e83a3a" transform="rotate(180 3955 620)"/>
<line x1="4020" y1="620" x2="4160" y2="690" stroke="#1a7fb8" stroke-width="6"/>
<g transform="translate(4050,970) rotate(-20)"><rect x="-45" y="-25" width="40" height="50" fill="#175e94"/><rect x="-2" y="-25" width="44" height="50" fill="#1f86c0"/></g>
<use href="#lg" x="4120" y="955" stroke="#e83a3a"/><use href="#lg" x="3985" y="1010" stroke="#e83a3a" transform="rotate(180 3985 1010)"/>
<line x1="4060" y1="990" x2="4120" y2="1170" stroke="#1a7fb8" stroke-width="6"/>
<g transform="translate(3970,1340) rotate(-15)"><rect x="-40" y="-20" width="35" height="40" fill="#175e94"/><rect x="-2" y="-20" width="38" height="40" fill="#1f86c0"/></g>
<rect x="3975" y="1390" width="25" height="30" fill="#1f86c0"/><line x1="4060" y1="1370" x2="4080" y2="1410" stroke="#175e94" stroke-width="8"/>
<use href="#lg" x="3980" y="1460" stroke="#e83a3a" transform="rotate(180 3980 1460)"/><use href="#lg" x="4058" y="1440" stroke="#e83a3a"/>
</g>

<g>
<text x="252" y="1880" font-size="46">Transcription of Osteoblast-related Genes</text>
<text x="252" y="1931" font-size="46">Osteoblasts Differentiation</text>
<text x="1223" y="1829" font-size="42">Neutrophil</text>
<text x="1223" y="1880" font-size="42">Granulation and</text>
<text x="1223" y="1931" font-size="42">Activation</text>
<text x="1646" y="1844" font-size="42">Inflammation</text>
<text x="1646" y="1893" font-size="42">Innate Immunity</text>
<text x="1646" y="1943" font-size="42">Activation</text>
<text x="2051" y="1872" font-size="42">Angiogenesis</text>
<text x="2606" y="1838" font-size="42">Fibrillin-1</text>
<text x="2606" y="1893" font-size="42">Translation</text>
<text x="2938" y="1948" font-size="46">Apoptosis</text>
<text x="3197" y="1889" font-size="46">Angiogenesis</text>
<text x="3553" y="1948" font-size="46">Cell Cycle Arrest</text>
<text x="3830" y="1155" font-size="38">Early</text>
<text x="3830" y="1200" font-size="38">Endosome</text>
<text x="3953" y="1603" font-size="44">Lysosome</text>
</g>
</svg>
</body></html>
